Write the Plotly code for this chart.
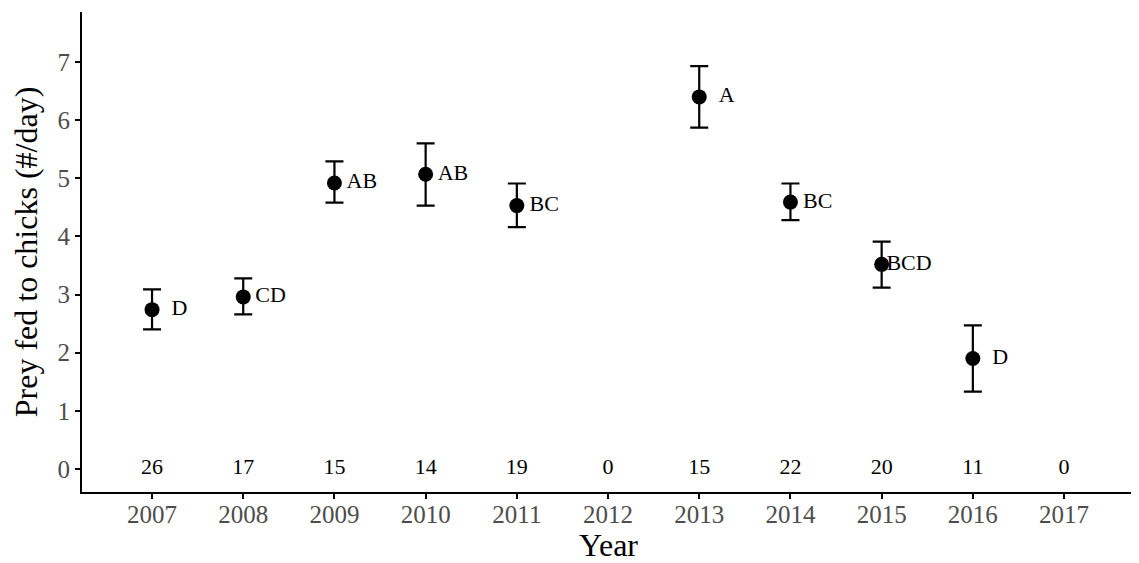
import plotly.graph_objects as go

years = [2007, 2008, 2009, 2010, 2011, 2013, 2014, 2015, 2016]
means = [2.74, 2.96, 4.92, 5.07, 4.53, 6.40, 4.59, 3.52, 1.90]
lower = [2.40, 2.66, 4.58, 4.53, 4.16, 5.87, 4.28, 3.12, 1.33]
upper = [3.09, 3.28, 5.29, 5.60, 4.91, 6.93, 4.91, 3.91, 2.47]
letters = ["D", "CD", "AB", "AB", "BC", "A", "BC", "BCD", "D"]

all_years = [2007, 2008, 2009, 2010, 2011, 2012, 2013, 2014, 2015, 2016, 2017]
sample_n = [26, 17, 15, 14, 19, 0, 15, 22, 20, 11, 0]

serif = "Liberation Serif, Times New Roman, serif"

fig = go.Figure()
fig.add_trace(go.Scatter(
    x=years, y=means, mode="markers",
    marker=dict(color="black", size=15),
    error_y=dict(type="data", symmetric=False,
                 array=[u - m for u, m in zip(upper, means)],
                 arrayminus=[m - l for m, l in zip(means, lower)],
                 color="black", thickness=2.2, width=9),
    showlegend=False, hoverinfo="skip"))
fig.add_trace(go.Scatter(
    x=[y + 0.3 for y in years], y=means, mode="text", text=letters,
    textposition="middle center",
    textfont=dict(family=serif, size=22, color="black"),
    showlegend=False, hoverinfo="skip"))
fig.add_trace(go.Scatter(
    x=all_years, y=[0] * len(all_years), mode="text",
    text=[str(n) for n in sample_n], textposition="middle center",
    textfont=dict(family=serif, size=22, color="black"),
    showlegend=False, hoverinfo="skip"))

fig.update_layout(
    width=1131, height=555,
    margin=dict(l=74, r=4, t=4, b=71),
    plot_bgcolor="white", paper_bgcolor="white",
    font=dict(family=serif),
    xaxis=dict(range=[2006.232, 2017.778], tickmode="array", tickvals=all_years,
               ticktext=[str(y) for y in all_years], automargin=False,
               showgrid=False, zeroline=False, showline=True, linecolor="black",
               linewidth=2, ticks="outside", ticklen=5, tickwidth=2, tickcolor="black",
               ticklabelstandoff=-6,
               tickfont=dict(family=serif, size=25, color="#4d4d4d"),
               title=dict(text="Year", font=dict(family=serif, size=32, color="black"), standoff=11)),
    yaxis=dict(range=[-0.396, 7.86], tickmode="array", tickvals=list(range(8)),
               automargin=False,
               showgrid=False, zeroline=False, showline=True, linecolor="black",
               linewidth=2, ticks="outside", ticklen=5, tickwidth=2, tickcolor="black",
               tickfont=dict(family=serif, size=25, color="#4d4d4d"),
               title=dict(text="Prey fed to chicks (#/day)", font=dict(family=serif, size=32, color="black"), standoff=10)),
)

fig.write_html("out.html")
